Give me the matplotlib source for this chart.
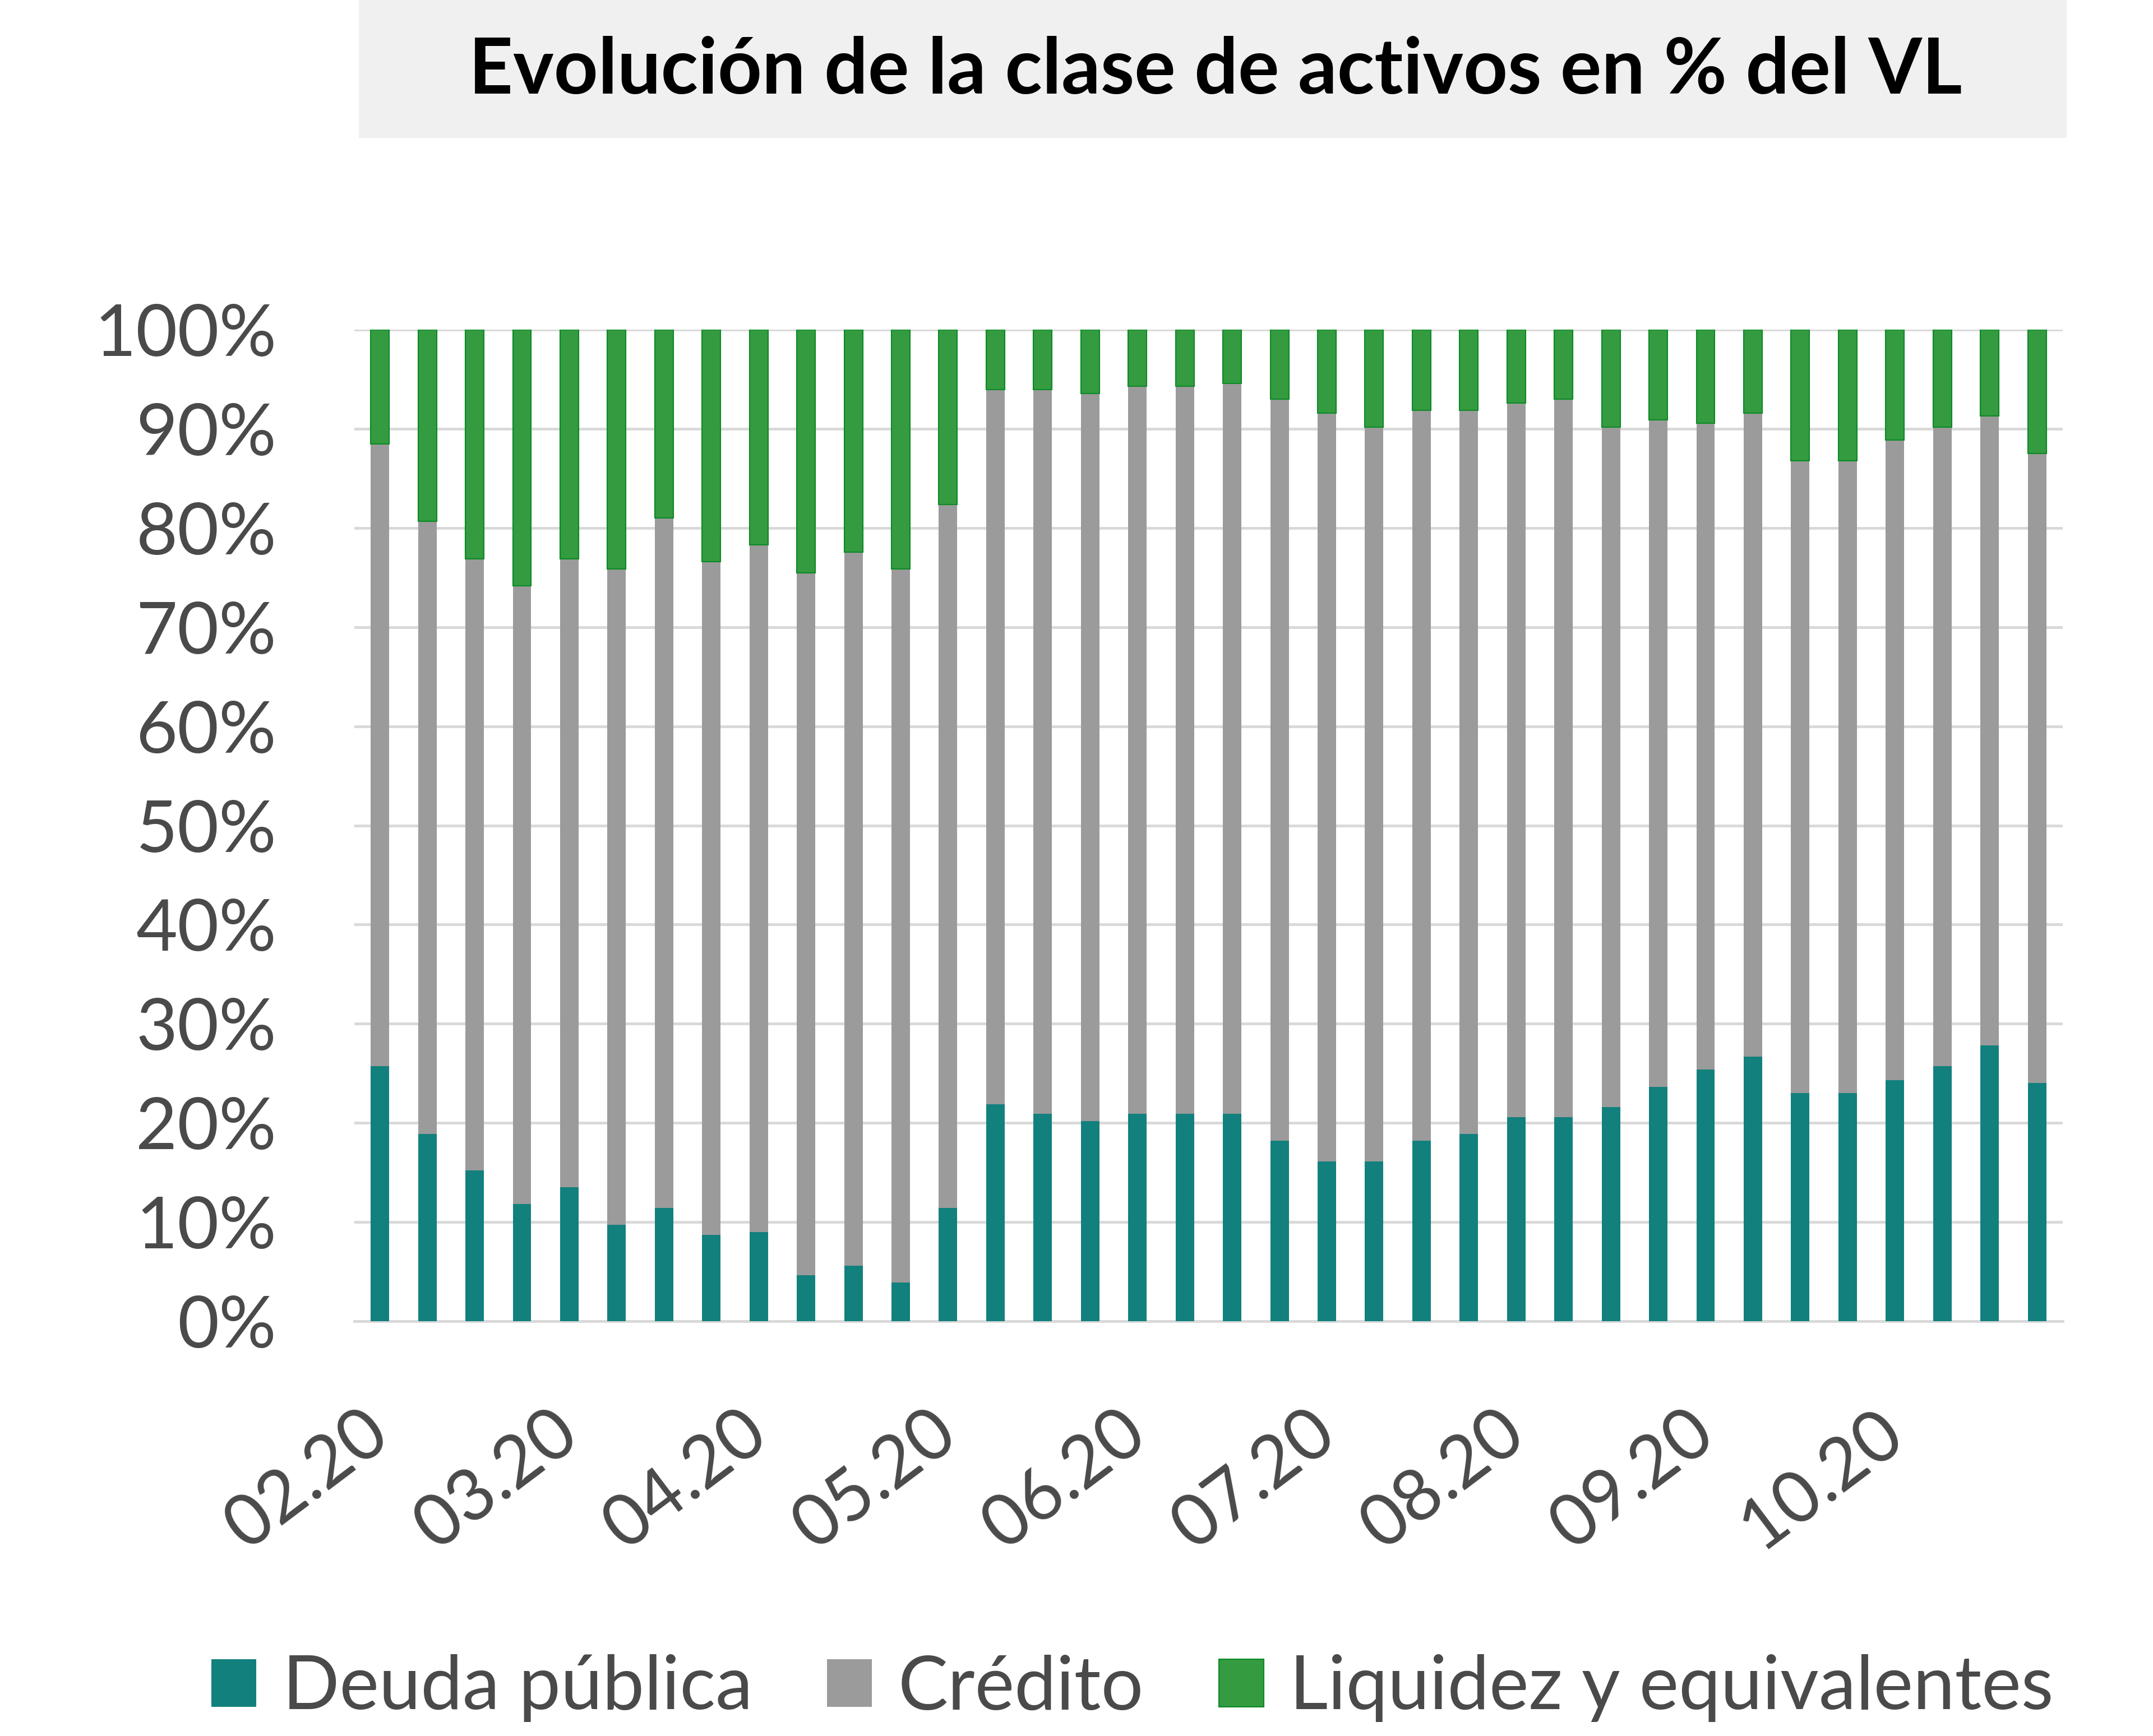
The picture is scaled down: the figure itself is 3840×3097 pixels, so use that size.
import numpy as np
import matplotlib.pyplot as plt
from matplotlib.patches import Rectangle
from matplotlib.ticker import FuncFormatter

# Composition of the portfolio (% of NAV), 36 observations, Feb-20 .. Oct-20
deuda_publica = [25.7, 18.9, 15.2, 11.8, 13.5, 9.7, 11.4, 8.7, 9.0, 4.6, 5.6, 3.9,
                 11.4, 21.9, 20.9, 20.2, 20.9, 20.9, 20.9, 18.2, 16.1, 16.1, 18.2, 18.9,
                 20.6, 20.6, 21.6, 23.6, 25.4, 26.7, 23.0, 23.0, 24.3, 25.7, 27.8, 24.0]
# cumulative top of the "Crédito" band (Deuda + Crédito)
top_credito = [88.5, 80.7, 76.9, 74.2, 76.9, 75.9, 81.0, 76.6, 78.3, 75.5, 77.6, 75.9,
               82.4, 94.0, 94.0, 93.6, 94.3, 94.3, 94.6, 93.0, 91.6, 90.2, 91.9, 91.9,
               92.6, 93.0, 90.2, 90.9, 90.6, 91.6, 86.8, 86.8, 88.9, 90.2, 91.3, 87.5]
tick_labels = ['02.20', '03.20', '04.20', '05.20', '06.20', '07.20', '08.20', '09.20', '10.20']
series_names = ['Deuda pública', 'Crédito', 'Liquidez y equivalentes']

deuda = np.array(deuda_publica)
credito = np.array(top_credito) - deuda
liquidez = 100.0 - np.array(top_credito)

COL_DEUDA = '#12807d'
COL_CRED = '#9b9b9b'
COL_LIQ = '#349b40'
TXT = '#4a4a4a'

plt.rcParams['font.family'] = ['Lato', 'DejaVu Sans']

fig = plt.figure(figsize=(38.4, 30.97), dpi=100)
ax = fig.add_axes([0.1646, 0.239, 0.7934, 0.571])

x = np.arange(len(deuda))
w = 0.39
ax.bar(x, deuda, w, color=COL_DEUDA, label=series_names[0], zorder=3)
ax.bar(x, credito, w, bottom=deuda, color=COL_CRED, label=series_names[1], zorder=3)
ax.bar(x, liquidez, w, bottom=deuda + credito, color=COL_LIQ, edgecolor='#0b8a25',
       linewidth=1.5, label=series_names[2], zorder=3)

ax.set_xlim(-0.54, len(x) - 0.46)
ax.set_ylim(0, 100)
ax.set_yticks(np.arange(0, 101, 10))
ax.yaxis.set_major_formatter(FuncFormatter(lambda v, _: f'{v:.0f}%'))
ax.grid(axis='y', color='#d9d9d9', linewidth=3.5, zorder=0)
ax.set_axisbelow(True)
for s in ['top', 'right', 'left']:
    ax.spines[s].set_visible(False)
ax.spines['bottom'].set_color('#d9d9d9')
ax.spines['bottom'].set_linewidth(3.5)

ax.set_xticks(x[::4])
ax.set_xticklabels(tick_labels, rotation=37, ha='right', va='center', rotation_mode='anchor')
ax.tick_params(axis='x', length=0, pad=133, labelsize=92, labelcolor=TXT)
ax.tick_params(axis='y', length=0, pad=100, labelsize=92, labelcolor=TXT)

# title band
fig.patches.append(Rectangle((640 / 3840, 1 - 245 / 3097), 3045 / 3840, 245 / 3097,
                             transform=fig.transFigure, color='#f0f0f0', zorder=0))
fig.text(2168 / 3840, 1 - 127 / 3097, 'Evolución de la clase de activos en % del VL',
         ha='center', va='center', fontsize=99, fontweight='bold', color='black')

fig.legend(loc='center', bbox_to_anchor=(0.526, 1 - 3012 / 3097), ncol=3, frameon=False,
           fontsize=96, labelcolor=TXT, handlelength=0.6, handleheight=0.6,
           handletextpad=0.35, columnspacing=1.0)

fig.savefig('out.png', dpi=100)
